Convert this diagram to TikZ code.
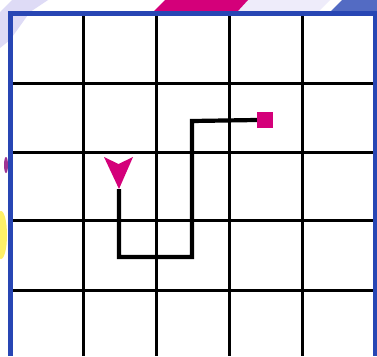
\documentclass[tikz,border=0pt]{standalone}
\begin{document}
\begin{tikzpicture}[x=1pt,y=-1pt,
  gridline/.style={line width=3pt,black},
  pathline/.style={line width=4.2pt,black,line join=miter},
  frame/.style={line width=5pt,draw=bordblue}]
\definecolor{bordblue}{RGB}{40,70,180}
\definecolor{mag}{RGB}{212,0,122}
\definecolor{lav}{RGB}{200,195,240}
\useasboundingbox (0,0) rectangle (377,356);
\fill[white] (0,0) rectangle (377,356);
% corner decorations
\fill[lav,opacity=0.6] (0,12) -- (12,0) -- (48,0) -- (30,12) -- (10,40) -- (0,48) -- cycle;
\fill[lav,opacity=0.3] (215,12) -- (228,0) -- (330,0) -- (318,12) -- cycle;
\fill[mag] (153,12) -- (165,0) -- (248,0) -- (237,12) -- cycle;
\fill[bordblue!80] (330,12) -- (342,0) -- (377,0) -- (377,12) -- cycle;
\fill[purple!70!blue,opacity=0.8] (6,165) ellipse (2pt and 8pt);
\fill[yellow!90!orange,opacity=0.6] (1,235) ellipse (6pt and 24pt);
% grid
\foreach \x in {83,156,229,302} \draw[gridline] (\x,13) -- (\x,356);
\foreach \y in {83,152,220,290} \draw[gridline] (10,\y) -- (375,\y);
\draw[frame] (10,13) -- (375,13);
\draw[frame] (10,11) -- (10,356);
\draw[frame] (375,11) -- (375,356);
% path
\coordinate (start) at (119,189);
\node[fill=mag,minimum size=16pt,inner sep=0pt] (goal) at (265,120) {};
\draw[pathline] (start) -- (119,257) -- (192,257) -- (192,121) -- (goal.west);
\fill[mag] (start) -- (104,157) -- (118.5,164) -- (133,157) -- cycle;
\end{tikzpicture}
\end{document}
